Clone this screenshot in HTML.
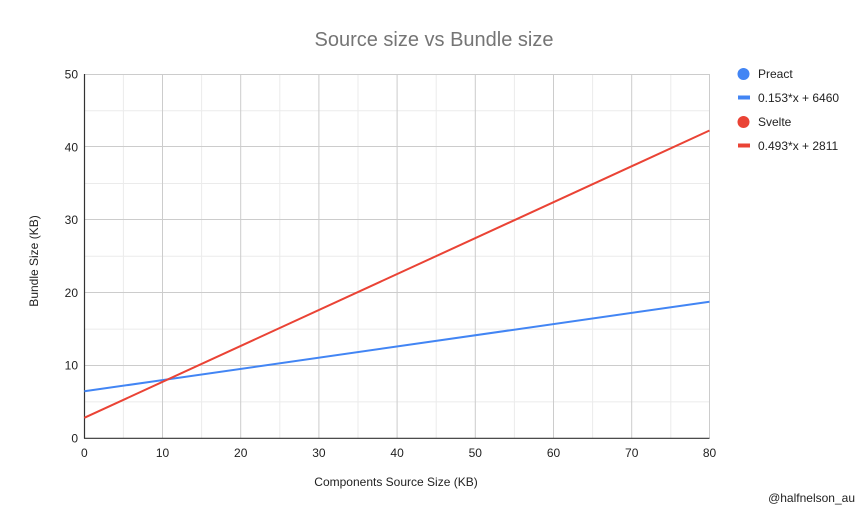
<!DOCTYPE html>
<html><head><meta charset="utf-8"><style>
html,body{margin:0;padding:0;background:#fff;}
svg{display:block;font-family:"Liberation Sans",Arial,sans-serif;}
</style></head><body>
<svg width="867" height="516" viewBox="0 0 867 516" xmlns="http://www.w3.org/2000/svg">
<rect width="867" height="516" fill="#fff"/>
<text x="434" y="46" font-size="20" fill="#757575" text-anchor="middle">Source size vs Bundle size</text>
<!-- minor grid -->
<g stroke="#ebebeb" stroke-width="1">
<line x1="123.4" y1="74" x2="123.4" y2="438"/>
<line x1="201.6" y1="74" x2="201.6" y2="438"/>
<line x1="279.8" y1="74" x2="279.8" y2="438"/>
<line x1="358" y1="74" x2="358" y2="438"/>
<line x1="436.2" y1="74" x2="436.2" y2="438"/>
<line x1="514.4" y1="74" x2="514.4" y2="438"/>
<line x1="592.6" y1="74" x2="592.6" y2="438"/>
<line x1="670.8" y1="74" x2="670.8" y2="438"/>
<line x1="84" y1="401.9" x2="709.5" y2="401.9"/>
<line x1="84" y1="329.1" x2="709.5" y2="329.1"/>
<line x1="84" y1="256.3" x2="709.5" y2="256.3"/>
<line x1="84" y1="183.5" x2="709.5" y2="183.5"/>
<line x1="84" y1="110.7" x2="709.5" y2="110.7"/>
</g>
<!-- major grid -->
<g stroke="#cccccc" stroke-width="1">
<line x1="162.5" y1="74" x2="162.5" y2="438"/>
<line x1="240.7" y1="74" x2="240.7" y2="438"/>
<line x1="318.9" y1="74" x2="318.9" y2="438"/>
<line x1="397.1" y1="74" x2="397.1" y2="438"/>
<line x1="475.3" y1="74" x2="475.3" y2="438"/>
<line x1="553.5" y1="74" x2="553.5" y2="438"/>
<line x1="631.7" y1="74" x2="631.7" y2="438"/>
<line x1="709.5" y1="74" x2="709.5" y2="438"/>
<line x1="84" y1="74.5" x2="709.5" y2="74.5"/>
<line x1="84" y1="146.5" x2="709.5" y2="146.5"/>
<line x1="84" y1="219.5" x2="709.5" y2="219.5"/>
<line x1="84" y1="292.5" x2="709.5" y2="292.5"/>
<line x1="84" y1="365.5" x2="709.5" y2="365.5"/>
</g>
<!-- axes -->
<line x1="84.5" y1="74" x2="84.5" y2="438.5" stroke="#333" stroke-width="1.2"/>
<line x1="84" y1="438.3" x2="709.5" y2="438.3" stroke="#333" stroke-width="1.2"/>
<!-- series -->
<line x1="84.3" y1="391.3" x2="709.5" y2="301.7" stroke="#4285f4" stroke-width="2"/>
<line x1="84.3" y1="417.8" x2="709.5" y2="130.5" stroke="#ea4335" stroke-width="2"/>
<!-- y tick labels -->
<g font-size="12" fill="#222" text-anchor="end">
<text x="78" y="442.5">0</text>
<text x="78" y="369.7">10</text>
<text x="78" y="296.9">20</text>
<text x="78" y="224.1">30</text>
<text x="78" y="151.3">40</text>
<text x="78" y="78.5">50</text>
</g>
<!-- x tick labels -->
<g font-size="12" fill="#222" text-anchor="middle">
<text x="84.3" y="457">0</text>
<text x="162.5" y="457">10</text>
<text x="240.7" y="457">20</text>
<text x="318.9" y="457">30</text>
<text x="397.1" y="457">40</text>
<text x="475.3" y="457">50</text>
<text x="553.5" y="457">60</text>
<text x="631.7" y="457">70</text>
<text x="709.5" y="457">80</text>
</g>
<text x="396" y="486" font-size="12" fill="#222" text-anchor="middle">Components Source Size (KB)</text>
<text transform="translate(38,261) rotate(-90)" font-size="12" fill="#222" text-anchor="middle">Bundle Size (KB)</text>
<!-- legend -->
<circle cx="743.5" cy="74" r="6" fill="#4285f4"/>
<text x="758" y="78" font-size="12" fill="#222">Preact</text>
<rect x="738" y="95.5" width="12" height="4" fill="#4285f4"/>
<text x="758" y="102" font-size="12" fill="#222">0.153*x + 6460</text>
<circle cx="743.5" cy="122" r="6" fill="#ea4335"/>
<text x="758" y="126" font-size="12" fill="#222">Svelte</text>
<rect x="738" y="143.5" width="12" height="4" fill="#ea4335"/>
<text x="758" y="150" font-size="12" fill="#222">0.493*x + 2811</text>
<text x="855" y="502" font-size="12" fill="#222" text-anchor="end">@halfnelson_au</text>
</svg>
</body></html>
